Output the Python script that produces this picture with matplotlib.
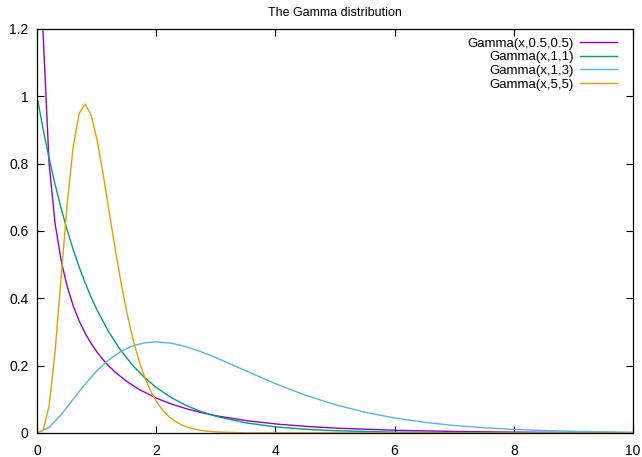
# Gamma distribution curves, gnuplot-style look

import matplotlib.pyplot as plt
from matplotlib.ticker import FuncFormatter

# values
x_a = [0.101, 0.202, 0.303, 0.404, 0.505, 0.606, 0.707, 0.808, 0.909, 1.010, 1.111,
       1.212, 1.313, 1.515, 1.717, 2.020, 2.273, 2.525, 2.778, 3.030, 3.535, 4.040,
       4.545, 5.051, 6.061, 7.071, 8.081, 10.0]
y_a = [1.1936, 0.8023, 0.6229, 0.5129, 0.4361, 0.3785, 0.3332, 0.2963, 0.2657, 0.2396,
       0.2172, 0.1977, 0.1806, 0.1520, 0.1290, 0.1022, 0.0849, 0.0711, 0.0597, 0.0504,
       0.0362, 0.0263, 0.0193, 0.0142, 0.0078, 0.0044, 0.0025, 0.0009]

x_b = [0, 0.1, 0.2, 0.3, 0.4, 0.5, 0.6, 0.7, 0.8, 0.9, 1.0, 1.2, 1.4, 1.6, 1.8, 2.0,
       2.25, 2.5, 2.75, 3.0, 3.5, 4.0, 4.5, 5.0, 6.0, 7.0, 8.0, 10.0]
y_b = [1.0, 0.9048, 0.8187, 0.7408, 0.6703, 0.6065, 0.5488, 0.4966, 0.4493, 0.4066,
       0.3679, 0.3012, 0.2466, 0.2019, 0.1653, 0.1353, 0.1054, 0.0821, 0.0639, 0.0498,
       0.0302, 0.0183, 0.0111, 0.0067, 0.0025, 0.0009, 0.0003, 0.0001]

x_c = [0, 0.2, 0.4, 0.6, 0.8, 1.0, 1.2, 1.4, 1.6, 1.8, 2.0, 2.25, 2.5, 2.75, 3.0, 3.5,
       4.0, 4.5, 5.0, 5.5, 6.0, 6.5, 7.0, 7.5, 8.0, 8.5, 9.0, 9.5, 10.0]
y_c = [0, 0.0164, 0.0536, 0.0988, 0.1438, 0.1839, 0.2169, 0.2417, 0.2584, 0.2678, 0.2707,
       0.2668, 0.2565, 0.2416, 0.2240, 0.1850, 0.1465, 0.1125, 0.0842, 0.0618, 0.0446,
       0.0318, 0.0223, 0.0156, 0.0107, 0.0074, 0.0050, 0.0034, 0.0023]

x_d = [0, 0.101, 0.202, 0.303, 0.404, 0.505, 0.606, 0.707, 0.808, 0.909, 1.010, 1.111,
       1.212, 1.313, 1.414, 1.515, 1.616, 1.717, 1.818, 1.919, 2.020, 2.121, 2.222, 2.323,
       2.424, 2.525, 2.626, 2.727, 2.828, 2.929, 3.030, 3.5, 10.0]
y_d = [0, 0.0082, 0.0790, 0.2412, 0.4603, 0.678, 0.8485, 0.949, 0.9768, 0.944, 0.8684,
       0.7673, 0.6558, 0.5449, 0.4424, 0.3519, 0.2749, 0.2114, 0.1604, 0.1201, 0.0889,
       0.0653, 0.0475, 0.0342, 0.0245, 0.0174, 0.0123, 0.0086, 0.0060, 0.0042, 0.0029,
       0.0005, 0.0]

labels = ['Gamma(x,0.5,0.5)', 'Gamma(x,1,1)', 'Gamma(x,1,3)', 'Gamma(x,5,5)']
colors = ['#9400d3', '#009e73', '#56b4e9', '#e69f00']
x_ticks = [0, 2, 4, 6, 8, 10]
y_ticks = [0, 0.2, 0.4, 0.6, 0.8, 1.0, 1.2]

plt.rcParams['font.family'] = ['Liberation Sans', 'DejaVu Sans']
plt.rcParams['font.size'] = 10

fig = plt.figure(figsize=(6.42, 4.57), dpi=100)
ax = fig.add_axes([37/642, 1 - 433/457, (633 - 37)/642, (433 - 29)/457])

series = [(x_a, y_a), (x_b, y_b), (x_c, y_c), (x_d, y_d)]
for (xs, ys), lab, col in zip(series, labels, colors):
    ax.plot(xs, ys, color=col, lw=1.0, label=lab)

ax.set_xlim(0, 10)
ax.set_ylim(0, 1.2)
ax.set_xticks(x_ticks)
ax.set_yticks(y_ticks)
fmt = FuncFormatter(lambda v, p: '%g' % v)
ax.xaxis.set_major_formatter(fmt)
ax.yaxis.set_major_formatter(fmt)
ax.tick_params(direction='in', length=5, width=0.8, top=True, right=True, labelsize=10)
ax.tick_params(axis='x', pad=8)
ax.tick_params(axis='y', pad=6)
for s in ax.spines.values():
    s.set_linewidth(0.9)

ax.set_title('The Gamma distribution', fontsize=9, pad=9)

ax.legend(loc='upper right', bbox_to_anchor=(0.978, 0.985), frameon=False,
          markerfirst=False, handlelength=2.85, handletextpad=0.45,
          labelspacing=0.1, borderpad=0.2, borderaxespad=0, fontsize=9.5)

fig.savefig('out.png', dpi=100)
